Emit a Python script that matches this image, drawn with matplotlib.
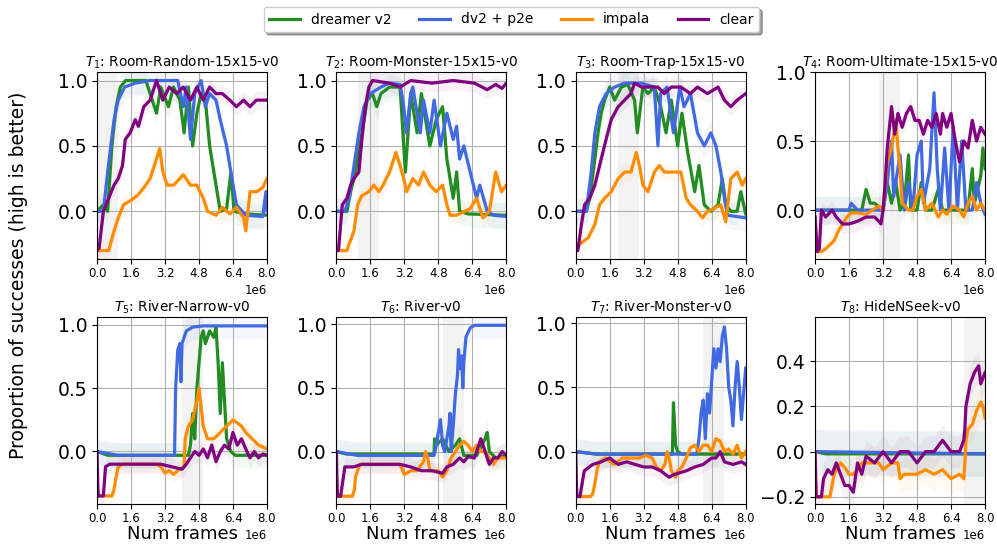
import numpy as np
import matplotlib.pyplot as plt

"""
Proportion of successes per task, four methods, eight tasks
"""

METHODS = ['dreamer v2', 'dv2 + p2e', 'impala', 'clear']
COLORS = ['forestgreen', 'royalblue', 'darkorange', 'purple']
SPREAD = [0.10, 0.10, 0.07, 0.07]

TITLES = [r'$T_1$: Room-Random-15x15-v0', r'$T_2$: Room-Monster-15x15-v0',
          r'$T_3$: Room-Trap-15x15-v0', r'$T_4$: Room-Ultimate-15x15-v0',
          r'$T_5$: River-Narrow-v0', r'$T_6$: River-v0',
          r'$T_7$: River-Monster-v0', r'$T_8$: HideNSeek-v0']

# task training windows (millions of frames)
TASK_START = [0.0, 1.0, 2.0, 3.0, 4.0, 5.0, 6.0, 7.0]
TASK_END = [1.0, 2.0, 3.0, 4.0, 5.0, 6.0, 7.0, 8.0]

YLIMS = [(-0.365, 1.065), (-0.365, 1.065), (-0.365, 1.065), (-0.354, 1.0),
         (-0.414, 1.06), (-0.411, 1.055), (-0.408, 1.047), (-0.232, 0.596)]
YTICKS_ROOM = [0.0, 0.5, 1.0]
YTICKS_HIDE = [-0.2, 0.0, 0.2, 0.4]

# (frames in millions, success)
T1_DREAMER = [(0, 0.0), (0.3, 0.05), (0.5, 0.0), (0.7, 0.5), (0.9, 0.8), (1.1, 0.95), (1.35, 1.0),
              (2.3, 1.0), (2.5, 0.9), (2.8, 0.75), (3.0, 0.95), (3.36, 0.8), (3.6, 0.95), (3.9, 0.85),
              (4.1, 0.6), (4.3, 0.95), (4.5, 0.5), (4.7, 0.75), (4.9, 0.9), (5.1, 0.85), (5.3, 0.5),
              (5.5, 0.3), (5.8, 0.0), (6.1, 0.02), (6.3, 0.3), (6.45, 0.0), (7.0, -0.02), (8.0, -0.03)]
T1_P2E = [(0, 0.0), (0.3, 0.0), (0.5, 0.3), (0.8, 0.7), (1.0, 0.85), (1.3, 0.95), (1.8, 0.98),
          (2.5, 1.0), (3.8, 1.0), (4.06, 0.8), (4.2, 0.95), (4.4, 0.55), (4.6, 0.9), (4.9, 1.0),
          (5.1, 0.8), (5.3, 0.9), (5.6, 0.85), (5.8, 0.7), (6.1, 0.5), (6.3, 0.3), (6.56, 0.05),
          (7.0, -0.03), (7.8, -0.04), (7.95, 0.15), (8.0, 0.0)]
T1_IMPALA = [(0, -0.3), (0.55, -0.3), (0.8, -0.15), (1.0, -0.05), (1.25, 0.05), (1.56, 0.08),
             (1.9, 0.12), (2.2, 0.18), (2.5, 0.25), (2.7, 0.35), (2.95, 0.48), (3.1, 0.3), (3.3, 0.2),
             (3.6, 0.2), (3.9, 0.25), (4.06, 0.28), (4.4, 0.2), (4.7, 0.2), (5.0, 0.1), (5.2, 0.0),
             (5.6, -0.03), (5.9, 0.03), (6.25, -0.02), (6.56, 0.03), (6.9, -0.05), (7.0, -0.15),
             (7.2, 0.15), (7.5, 0.15), (7.8, 0.18), (8.0, 0.25)]
T1_CLEAR = [(0, -0.3), (0.1, -0.28), (0.3, 0.0), (0.55, 0.1), (0.8, 0.2), (1.0, 0.25), (1.2, 0.35),
            (1.33, 0.55), (1.56, 0.6), (1.8, 0.7), (1.95, 0.65), (2.2, 0.8), (2.5, 0.85), (2.8, 1.0),
            (3.1, 0.85), (3.4, 0.95), (3.75, 0.9), (4.06, 0.95), (4.4, 0.85), (4.7, 0.95), (5.0, 0.85),
            (5.3, 0.95), (5.6, 0.9), (5.9, 0.9), (6.25, 0.85), (6.56, 0.8), (6.9, 0.85), (7.2, 0.8),
            (7.5, 0.85), (8.0, 0.85)]

T2_DREAMER = [(0, 0.0), (0.5, 0.0), (0.67, 0.15), (0.9, 0.3), (1.2, 0.6), (1.45, 0.85), (1.7, 0.9),
              (1.9, 0.8), (2.1, 0.9), (2.5, 0.95), (3.0, 0.95), (3.17, 0.5), (3.25, 0.3), (3.5, 0.9),
              (3.8, 0.6), (4.0, 0.9), (4.4, 0.5), (4.7, 0.7), (5.0, 0.8), (5.2, 0.4), (5.5, 0.1),
              (5.66, 0.3), (5.8, 0.0), (6.2, -0.02), (8.0, -0.03)]
T2_P2E = [(0, 0.0), (0.4, 0.0), (0.6, 0.1), (0.83, 0.35), (1.06, 0.6), (1.3, 0.8), (1.6, 0.9),
          (2.1, 0.95), (2.5, 0.98), (3.0, 0.97), (3.17, 0.8), (3.3, 0.6), (3.5, 0.9), (3.6, 0.95),
          (3.95, 0.6), (4.1, 0.85), (4.4, 0.6), (4.6, 0.85), (4.9, 0.5), (5.2, 0.75), (5.5, 0.55),
          (5.66, 0.65), (5.8, 0.4), (6.0, 0.5), (6.3, 0.3), (6.6, 0.1), (6.75, 0.2), (7.1, 0.0),
          (7.4, -0.03), (8.0, -0.04)]
T2_IMPALA = [(0, -0.3), (0.5, -0.3), (0.6, -0.25), (0.83, -0.15), (1.0, 0.05), (1.2, 0.12),
             (1.53, 0.15), (1.77, 0.2), (2.0, 0.15), (2.2, 0.2), (2.5, 0.3), (2.8, 0.45), (3.0, 0.35),
             (3.17, 0.25), (3.3, 0.15), (3.6, 0.25), (3.87, 0.2), (4.1, 0.3), (4.4, 0.2), (4.7, 0.15),
             (5.0, 0.2), (5.2, 0.05), (5.35, -0.03), (5.66, -0.03), (6.3, 0.02), (6.6, 0.1),
             (6.9, -0.05), (7.2, 0.0), (7.5, 0.3), (7.77, 0.15), (8.0, 0.2)]
T2_CLEAR = [(0, -0.3), (0.1, -0.3), (0.28, 0.05), (0.5, 0.1), (0.67, 0.2), (0.83, 0.25), (1.06, 0.3),
            (1.2, 0.55), (1.37, 0.8), (1.53, 0.95), (1.7, 1.0), (2.5, 0.98), (3.0, 0.95), (3.5, 1.0),
            (4.5, 0.98), (5.5, 1.0), (6.5, 0.98), (7.1, 0.93), (7.5, 0.97), (7.8, 0.94), (8.0, 0.98)]

T3_DREAMER = [(0, 0.0), (0.5, 0.0), (0.66, 0.1), (0.9, 0.4), (1.05, 0.6), (1.2, 0.75), (1.36, 0.85),
              (1.6, 0.95), (1.83, 0.85), (2.15, 0.95), (2.45, 0.97), (2.77, 0.85), (2.9, 0.6),
              (3.16, 0.95), (3.4, 0.9), (3.7, 0.95), (4.0, 0.8), (4.25, 0.6), (4.5, 0.85), (4.8, 0.5),
              (5.0, 0.75), (5.27, 0.45), (5.6, 0.15), (5.8, 0.35), (6.05, 0.05), (6.36, 0.0),
              (6.7, 0.05), (6.9, 0.25), (7.06, 0.05), (7.3, 0.0), (7.6, 0.0), (7.77, 0.15), (8.0, -0.02)]
T3_P2E = [(0, 0.0), (0.5, 0.0), (0.73, 0.3), (0.9, 0.6), (1.12, 0.8), (1.43, 0.9), (1.83, 0.95),
          (2.3, 0.98), (3.1, 0.98), (3.7, 0.95), (3.87, 0.5), (4.0, 0.9), (4.3, 0.95), (4.6, 0.6),
          (4.9, 0.95), (5.1, 0.8), (5.4, 0.9), (5.73, 0.6), (6.05, 0.5), (6.36, 0.6), (6.6, 0.5),
          (6.83, 0.3), (7.0, 0.1), (7.14, -0.03), (8.0, -0.05)]
T3_IMPALA = [(0, -0.3), (0.2, -0.25), (0.6, -0.2), (0.9, -0.1), (1.12, 0.05), (1.36, 0.1),
             (1.67, 0.15), (2.0, 0.25), (2.3, 0.3), (2.6, 0.3), (2.85, 0.45), (3.0, 0.35), (3.16, 0.2),
             (3.4, 0.15), (3.7, 0.3), (3.94, 0.35), (4.17, 0.3), (4.5, 0.3), (4.95, 0.3), (5.2, 0.1),
             (5.4, 0.05), (5.73, 0.0), (5.97, -0.05), (6.2, 0.0), (6.5, 0.02), (6.83, 0.05),
             (7.06, -0.08), (7.3, 0.25), (7.6, 0.3), (7.84, 0.2), (8.0, 0.25)]
T3_CLEAR = [(0, -0.3), (0.1, -0.3), (0.27, -0.1), (0.42, 0.05), (0.66, 0.1), (0.9, 0.2), (1.2, 0.4),
            (1.43, 0.55), (1.67, 0.7), (2.0, 0.8), (2.3, 0.85), (2.6, 0.9), (2.77, 0.98), (3.1, 0.95),
            (3.55, 0.95), (3.87, 0.95), (4.17, 0.9), (4.5, 0.95), (4.95, 0.95), (5.4, 0.9),
            (5.73, 0.95), (6.2, 0.9), (6.7, 0.95), (7.0, 0.85), (7.3, 0.8), (7.6, 0.85), (8.0, 0.9)]

T4_DREAMER = [(0, 0.0), (2.2, 0.0), (2.4, 0.15), (2.6, 0.05), (2.8, 0.05), (3.2, 0.0), (3.4, 0.2),
              (3.6, 0.05), (3.8, 0.2), (4.0, 0.0), (4.2, 0.05), (4.4, 0.4), (4.5, 0.0), (4.8, 0.0),
              (5.0, 0.2), (5.2, 0.0), (5.5, 0.0), (5.8, 0.15), (6.0, 0.0), (7.2, 0.0), (7.4, 0.3),
              (7.5, 0.05), (7.8, 0.25), (7.9, 0.45), (8.0, 0.3)]
T4_P2E = [(0, 0.0), (1.6, 0.0), (1.7, 0.05), (2.0, 0.0), (3.2, 0.0), (3.4, 0.2), (3.6, 0.5),
          (3.7, 0.1), (4.0, 0.4), (4.2, 0.0), (4.4, 0.2), (4.6, 0.0), (4.8, 0.4), (5.0, 0.5),
          (5.1, 0.05), (5.4, 0.3), (5.6, 0.85), (5.75, 0.3), (5.9, 0.0), (6.1, 0.45), (6.3, 0.0),
          (6.5, 0.6), (6.7, 0.0), (6.9, 0.5), (7.1, 0.0), (7.4, 0.0), (7.6, 0.2), (7.8, 0.05),
          (8.0, -0.03)]
T4_IMPALA = [(0, -0.05), (0.1, -0.3), (0.3, -0.3), (0.5, -0.28), (0.7, -0.25), (0.9, -0.22),
             (1.1, -0.15), (1.3, -0.1), (1.5, -0.05), (1.7, -0.02), (2.0, -0.02), (2.4, -0.03),
             (2.7, 0.0), (3.0, 0.03), (3.2, 0.0), (3.4, 0.35), (3.6, 0.45), (3.8, 0.65), (3.9, 0.45),
             (4.0, 0.3), (4.1, 0.05), (4.4, 0.0), (4.6, 0.0), (4.8, 0.1), (5.0, 0.15), (5.2, 0.0),
             (5.5, 0.05), (5.8, -0.05), (6.0, 0.0), (6.2, -0.03), (6.5, 0.03), (6.8, 0.0),
             (7.0, -0.05), (7.2, 0.05), (7.4, 0.1), (7.6, 0.0), (7.8, 0.05), (8.0, 0.0)]
T4_CLEAR = [(0, -0.05), (0.1, -0.3), (0.2, -0.28), (0.3, 0.0), (0.5, -0.05), (0.8, 0.0),
            (1.0, -0.05), (1.3, -0.1), (1.6, -0.1), (2.0, -0.08), (2.4, -0.05), (2.8, -0.05),
            (3.0, -0.08), (3.1, -0.1), (3.2, 0.0), (3.3, 0.2), (3.4, 0.45), (3.6, 0.75), (3.75, 0.55),
            (3.9, 0.7), (4.1, 0.6), (4.3, 0.7), (4.5, 0.75), (4.7, 0.65), (4.9, 0.65), (5.1, 0.55),
            (5.3, 0.65), (5.5, 0.6), (5.7, 0.7), (5.9, 0.55), (6.0, 0.7), (6.2, 0.6), (6.4, 0.7),
            (6.6, 0.5), (6.8, 0.35), (7.0, 0.5), (7.2, 0.45), (7.4, 0.65), (7.6, 0.5), (7.8, 0.6),
            (8.0, 0.55)]

T5_DREAMER = [(0, 0.0), (0.5, -0.03), (4.3, -0.03), (4.4, 0.05), (4.5, 0.3), (4.6, 0.1), (4.7, 0.5),
              (4.8, 0.7), (4.9, 0.9), (5.0, 0.95), (5.1, 0.85), (5.3, 0.95), (5.5, 0.9), (5.6, 0.98),
              (5.7, 0.7), (5.8, 0.3), (5.9, 0.7), (6.0, 0.4), (6.1, 0.1), (6.2, 0.05), (6.3, 0.0),
              (6.5, -0.03), (8.0, -0.03)]
T5_P2E = [(0, 0.0), (1.0, -0.03), (3.65, -0.03), (3.7, 0.5), (3.8, 0.8), (3.9, 0.85), (3.95, 0.55),
          (4.0, 0.85), (4.2, 0.95), (4.5, 0.98), (5.0, 0.99), (8.0, 0.99)]
T5_IMPALA = [(0, -0.3), (0.1, -0.35), (0.7, -0.35), (0.8, -0.3), (0.9, -0.2), (1.0, -0.12),
             (1.2, -0.1), (2.0, -0.1), (2.8, -0.1), (3.0, -0.12), (3.2, -0.17), (3.4, -0.15),
             (3.6, -0.18), (3.8, -0.15), (4.1, -0.12), (4.15, 0.1), (4.3, 0.2), (4.5, 0.25),
             (4.7, 0.4), (4.8, 0.5), (4.9, 0.35), (5.0, 0.2), (5.2, 0.1), (5.5, 0.1), (5.8, 0.15),
             (6.1, 0.2), (6.4, 0.25), (6.8, 0.2), (7.0, 0.15), (7.3, 0.1), (7.6, 0.05), (8.0, 0.02)]
T5_CLEAR = [(0, 0.0), (0.05, -0.35), (0.3, -0.35), (0.4, -0.12), (0.6, -0.1), (1.0, -0.1),
            (2.0, -0.1), (3.0, -0.1), (3.5, -0.12), (4.0, -0.14), (4.2, -0.1), (4.4, -0.05),
            (4.6, 0.0), (4.8, -0.03), (5.0, 0.02), (5.2, -0.05), (5.4, 0.05), (5.6, -0.08),
            (5.8, 0.0), (6.0, 0.05), (6.2, 0.02), (6.4, 0.15), (6.6, 0.05), (6.8, 0.1), (7.0, 0.02),
            (7.2, -0.05), (7.4, 0.0), (7.6, -0.05), (7.8, -0.02), (8.0, -0.03)]

T6_DREAMER = [(0, 0.0), (0.5, -0.02), (4.6, -0.02), (4.62, 0.1), (4.7, 0.05), (5.0, 0.1), (5.3, 0.0),
              (5.6, 0.05), (5.8, 0.1), (6.0, -0.03), (6.6, -0.03), (7.0, 0.1), (7.1, 0.15),
              (7.2, 0.0), (7.5, -0.05), (8.0, -0.03)]
T6_P2E = [(0, 0.0), (1.0, -0.03), (4.6, -0.03), (4.7, 0.05), (4.8, 0.15), (4.9, 0.25), (5.0, 0.05),
          (5.1, 0.0), (5.3, 0.2), (5.35, 0.3), (5.4, 0.0), (5.5, 0.2), (5.6, 0.45), (5.7, 0.6),
          (5.75, 0.8), (5.8, 0.65), (5.9, 0.75), (5.95, 0.5), (6.0, 0.7), (6.1, 0.9), (6.3, 0.97),
          (6.5, 0.99), (8.0, 0.99)]
T6_IMPALA = [(0, -0.3), (0.05, -0.35), (0.75, -0.35), (0.85, -0.3), (0.9, -0.2), (1.0, -0.15),
             (1.1, -0.1), (1.5, -0.1), (2.5, -0.1), (3.0, -0.1), (3.2, -0.18), (3.5, -0.15),
             (3.8, -0.15), (4.1, -0.08), (4.2, 0.0), (4.3, -0.05), (4.4, -0.15), (4.6, -0.15),
             (4.8, -0.15), (5.0, -0.2), (5.2, -0.15), (5.4, -0.05), (5.6, 0.0), (5.8, 0.05),
             (6.0, 0.08), (6.2, 0.05), (6.4, 0.0), (6.6, 0.05), (6.8, 0.0), (7.0, 0.0), (7.2, -0.05),
             (7.4, -0.1), (7.6, -0.05), (8.0, -0.05)]
T6_CLEAR = [(0, 0.0), (0.05, -0.35), (0.2, -0.35), (0.4, -0.12), (0.8, -0.12), (1.2, -0.1),
            (2.0, -0.1), (3.0, -0.1), (3.5, -0.12), (4.0, -0.15), (4.5, -0.15), (5.0, -0.17),
            (5.2, -0.12), (5.5, -0.1), (5.8, -0.05), (6.0, -0.08), (6.2, -0.04), (6.5, -0.05),
            (6.8, 0.1), (7.0, 0.0), (7.2, -0.1), (7.4, -0.05), (7.6, -0.05), (7.8, 0.0), (8.0, -0.03)]

T7_DREAMER = [(0, 0.0), (1.0, -0.02), (4.55, -0.02), (4.6, 0.38), (4.7, 0.05), (4.8, 0.0),
              (5.0, -0.02), (8.0, -0.02)]
T7_P2E = [(0, 0.0), (1.0, -0.02), (5.7, -0.02), (5.8, 0.1), (5.9, 0.3), (6.0, 0.4), (6.1, 0.1),
          (6.2, 0.45), (6.3, 0.3), (6.4, 0.55), (6.5, 0.8), (6.6, 0.65), (6.7, 0.8), (6.8, 0.7),
          (6.9, 0.9), (7.0, 0.97), (7.1, 0.8), (7.2, 0.5), (7.3, 0.4), (7.4, 0.2), (7.5, 0.5),
          (7.6, 0.7), (7.7, 0.5), (7.8, 0.25), (7.9, 0.45), (8.0, 0.65)]
T7_IMPALA = [(0, -0.3), (0.1, -0.35), (0.7, -0.35), (0.8, -0.33), (0.9, -0.25), (1.0, -0.15),
             (1.1, -0.08), (1.4, -0.05), (1.8, -0.1), (2.2, -0.05), (2.6, -0.05), (3.0, -0.05),
             (3.3, -0.03), (3.6, -0.05), (3.8, -0.12), (4.0, -0.15), (4.2, -0.1), (4.3, 0.0),
             (4.4, -0.05), (4.5, -0.15), (4.7, -0.2), (4.8, -0.15), (5.0, -0.12), (5.2, -0.05),
             (5.4, 0.03), (5.6, 0.05), (5.8, 0.0), (6.0, 0.05), (6.2, 0.05), (6.4, 0.0), (6.6, 0.1),
             (6.8, 0.08), (7.0, 0.0), (7.2, 0.02), (7.4, -0.02), (7.6, 0.05), (7.8, -0.05), (8.0, 0.0)]
T7_CLEAR = [(0, 0.0), (0.05, -0.35), (0.2, -0.35), (0.4, -0.15), (0.8, -0.1), (1.2, -0.08),
            (1.6, -0.05), (2.0, -0.1), (2.4, -0.08), (2.8, -0.1), (3.2, -0.12), (3.6, -0.12),
            (4.0, -0.15), (4.4, -0.2), (4.6, -0.18), (4.8, -0.17), (5.2, -0.15), (5.6, -0.12),
            (6.0, -0.1), (6.4, -0.05), (6.6, -0.05), (6.8, 0.0), (7.0, -0.08), (7.4, -0.1),
            (7.8, -0.08), (8.0, -0.1)]

T8_DREAMER = [(0, 0.0), (0.5, -0.01), (8.0, -0.01)]
T8_P2E = [(0, 0.0), (4.0, -0.005), (8.0, -0.01)]
T8_IMPALA = [(0, 0.0), (0.05, -0.2), (0.7, -0.2), (0.8, -0.15), (0.9, -0.1), (1.0, -0.08),
             (1.2, -0.05), (1.4, -0.07), (1.6, -0.1), (1.8, -0.1), (2.0, -0.08), (2.2, -0.05),
             (2.6, -0.05), (3.0, -0.05), (3.2, -0.08), (3.6, -0.05), (3.9, -0.05), (4.0, -0.12),
             (4.2, -0.1), (4.4, -0.1), (4.8, -0.1), (5.2, -0.08), (5.6, -0.1), (6.0, -0.08),
             (6.4, -0.12), (6.8, -0.1), (7.0, -0.12), (7.05, -0.05), (7.1, 0.05), (7.2, 0.1),
             (7.4, 0.12), (7.6, 0.18), (7.8, 0.22), (7.9, 0.2), (8.0, 0.15)]
T8_CLEAR = [(0, 0.0), (0.05, -0.2), (0.3, -0.2), (0.4, -0.12), (0.6, -0.08), (0.8, -0.1),
            (1.0, -0.05), (1.2, -0.1), (1.4, -0.15), (1.6, -0.15), (1.8, -0.18), (2.0, -0.05),
            (2.2, -0.1), (2.4, -0.02), (2.8, -0.05), (3.2, 0.0), (3.6, -0.05), (4.0, 0.0),
            (4.4, 0.0), (4.8, -0.05), (5.2, 0.0), (5.6, 0.0), (6.0, 0.05), (6.4, 0.0), (6.8, 0.0),
            (7.0, 0.05), (7.05, 0.1), (7.1, 0.2), (7.3, 0.3), (7.5, 0.35), (7.7, 0.38), (7.8, 0.3),
            (8.0, 0.35)]

PANELS = [
    [T1_DREAMER, T1_P2E, T1_IMPALA, T1_CLEAR],
    [T2_DREAMER, T2_P2E, T2_IMPALA, T2_CLEAR],
    [T3_DREAMER, T3_P2E, T3_IMPALA, T3_CLEAR],
    [T4_DREAMER, T4_P2E, T4_IMPALA, T4_CLEAR],
    [T5_DREAMER, T5_P2E, T5_IMPALA, T5_CLEAR],
    [T6_DREAMER, T6_P2E, T6_IMPALA, T6_CLEAR],
    [T7_DREAMER, T7_P2E, T7_IMPALA, T7_CLEAR],
    [T8_DREAMER, T8_P2E, T8_IMPALA, T8_CLEAR],
]

fig, axes = plt.subplots(2, 4, figsize=(9.97, 5.44), dpi=100)
fig.subplots_adjust(left=0.0973, right=0.988, top=0.8676, bottom=0.0735,
                    wspace=0.408, hspace=0.31)

for i, ax in enumerate(axes.flat):
    ax.axvspan(TASK_START[i] * 1e6, TASK_END[i] * 1e6, color='#d9d9d9', alpha=0.3, lw=0, zorder=0)
    for series, color, spread, name in zip(PANELS[i], COLORS, SPREAD, METHODS):
        x = np.array([p[0] for p in series]) * 1e6
        y = np.array([p[1] for p in series])
        ax.fill_between(x, y - spread, y + spread, color=color, alpha=0.05, lw=0, zorder=1)
        ax.plot(x, y, color=color, lw=2.3, label=name, zorder=2)

    ax.set_title(TITLES[i], fontsize=9.8, pad=4)
    ax.set_xlim(0, 8e6)
    ax.set_ylim(*YLIMS[i])
    ax.set_xticks(np.arange(0, 8.01, 1.6) * 1e6)
    ax.set_yticks(YTICKS_HIDE if i == 7 else YTICKS_ROOM)
    ax.tick_params(axis='x', labelsize=8.5, pad=2)
    ax.tick_params(axis='y', labelsize=13.5)
    ax.xaxis.get_offset_text().set_fontsize(8.5)
    ax.grid(True, color='#b0b0b0', lw=0.8)
    if i >= 4:
        ax.set_xlabel('Num frames', fontsize=13, labelpad=0)

fig.text(0.019, 0.494, 'Proportion of successes (high is better)', rotation=90,
         ha='center', va='center', fontsize=13.5)

handles, labels = axes.flat[0].get_legend_handles_labels()
fig.legend(handles, labels, loc='upper center', bbox_to_anchor=(0.513, 1.0), ncol=4,
           fontsize=10, shadow=True, handlelength=2.2)

plt.savefig('out.png', dpi=100)
